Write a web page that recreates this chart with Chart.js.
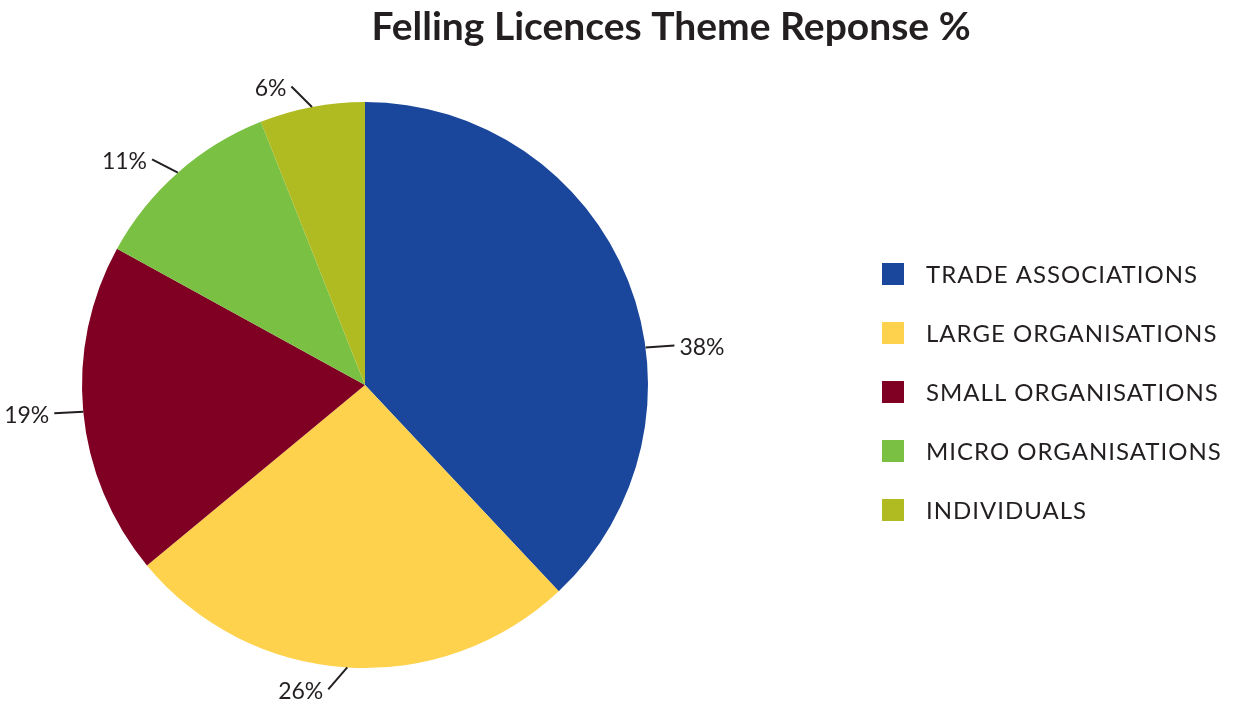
<!DOCTYPE html>
<html>
<head>
<meta charset="utf-8">
<script src="https://cdn.jsdelivr.net/npm/chart.js@4"></script>
<style>
  html, body { margin: 0; padding: 0; background: #fff; }
  #wrap { width: 1234px; height: 701px; position: relative; }
</style>
</head>
<body>
<div id="wrap"><canvas id="myChart"></canvas></div>
<script>
const titleText = 'Felling Licences Theme Reponse %';
const categories = ['TRADE ASSOCIATIONS', 'LARGE ORGANISATIONS', 'SMALL ORGANISATIONS', 'MICRO ORGANISATIONS', 'INDIVIDUALS'];
const shares = [38, 26, 19, 11, 6];
const colours = ['#1a479c', '#fed24c', '#800024', '#7ac143', '#b0bb22'];

const txt = '#231f20';
const font = 'Lato, "Open Sans", sans-serif';

// title, slice labels with leader lines, and legend on the right
const extras = {
  id: 'extras',
  afterDraw(chart, args, opts) {
    const c = chart.ctx;
    c.save();
    c.fillStyle = txt;
    c.font = 'bold 39px ' + font;
    c.textAlign = 'center';
    c.textBaseline = 'middle';
    c.fillText(titleText, 671, 27);

    // labels
    c.font = '23px ' + font;
    c.strokeStyle = txt;
    c.lineWidth = 2;
    chart.getDatasetMeta(0).data.forEach((arc, i) => {
      const p = arc.getProps(['x', 'y', 'startAngle', 'endAngle', 'outerRadius'], true);
      let mid = (p.startAngle + p.endAngle) / 2 + (opts.nudge[i] || 0) * Math.PI / 180;
      const rx = Math.cos(mid), ry = Math.sin(mid);
      const side = rx >= 0 ? 1 : -1;
      let dx = rx + side * 0.8, dy = ry;
      const n = Math.hypot(dx, dy);
      dx /= n; dy /= n;
      const x0 = p.x + rx * p.outerRadius, y0 = p.y + ry * p.outerRadius;
      const x1 = x0 + dx * 29, y1 = y0 + dy * 29;
      c.beginPath();
      c.moveTo(x0, y0);
      c.lineTo(x1, y1);
      c.stroke();
      c.textAlign = side > 0 ? 'left' : 'right';
      c.fillText(shares[i] + '%', x1 + side * 5, y1 + 2);
    });

    // legend
    c.font = '24px ' + font;
    c.letterSpacing = '1px';
    c.textAlign = 'left';
    categories.forEach((lab, i) => {
      const y = 274 + i * 59;
      c.fillStyle = colours[i];
      c.fillRect(882, y - 11, 22, 22);
      c.fillStyle = txt;
      c.fillText(lab, 926, y + 1);
    });
    c.restore();
  }
};

const ctx = document.getElementById('myChart').getContext('2d');
const chart = new Chart(ctx, {
  type: 'pie',
  data: {
    labels: categories,
    datasets: [{
      data: shares,
      backgroundColor: colours,
      borderWidth: 0
    }]
  },
  options: {
    responsive: true,
    maintainAspectRatio: false,
    animation: false,
    layout: {
      padding: { left: 82, right: 586, top: 102, bottom: 33 }
    },
    plugins: {
      legend: { display: false },
      title: { display: false },
      tooltip: { enabled: false },
      extras: { nudge: { 0: 14 } }
    }
  },
  plugins: [extras]
});
</script>
</body>
</html>
